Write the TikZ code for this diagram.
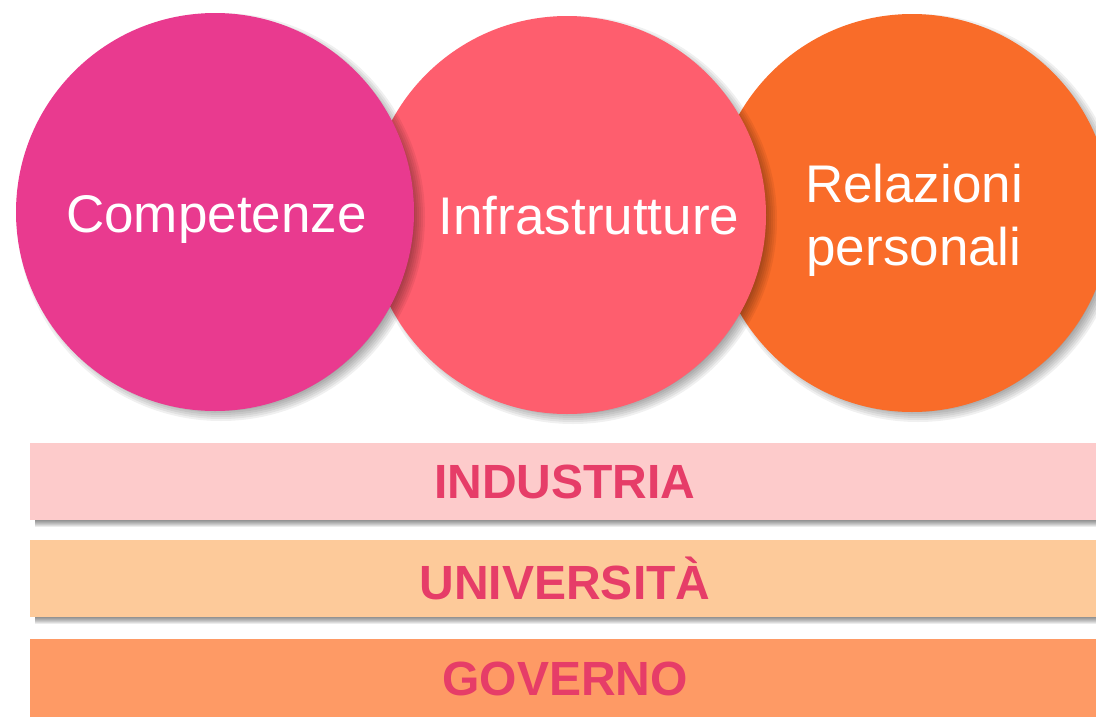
\documentclass[tikz,border=0pt]{standalone}
\usepackage{fontspec}
\setmainfont{Liberation Sans}
\definecolor{cA}{HTML}{E93A8F}
\definecolor{cB}{HTML}{FE5E6E}
\definecolor{cC}{HTML}{F96C29}
\definecolor{bA}{HTML}{FDCBCB}
\definecolor{bB}{HTML}{FDCA9A}
\definecolor{bC}{HTML}{FE9A65}
\definecolor{tx}{HTML}{E63D68}
\begin{document}
\begin{tikzpicture}[x=1pt,y=-1pt,
  disc/.style={circle,inner sep=0pt,minimum size=398pt,fill=#1},
  ctext/.style={text=white,font=\fontsize{53}{63}\selectfont,align=center,inner sep=0pt},
  barbox/.style={rectangle,inner sep=0pt,minimum height=77pt,minimum width=1070pt,fill=#1,text=tx,font=\fontsize{48}{58}\selectfont\bfseries},
  shade/.style={black,opacity=0.06},
  barshade/.style={black,opacity=0.075}
]
\clip (0,0) rectangle (1096,716);
\fill[white] (0,0) rectangle (1096,716);

% circle 3 (bottom layer)
\foreach \r in {190,192,...,204} \fill[shade] (918,218) circle[radius=\r pt];
\node[disc=cC] (c3) at (912,213) {};
% circle 2
\foreach \r in {190,192,...,204} \fill[shade] (573,220) circle[radius=\r pt];
\node[disc=cB] (c2) at (567,215) {};
% circle 1 (top layer)
\foreach \r in {190,192,...,204} \fill[shade] (221,217) circle[radius=\r pt];
\node[disc=cA] (c1) at (215,212) {};

\node[ctext,anchor=base] (t1) at (216.5,232) {Competenze};
\node[ctext,anchor=base] (t2) at (589,234) {Infrastrutture};
\node[ctext] (t3) at (914,220) {Relazioni\\personali};

% bar shadows
\foreach \d in {1,2,...,9} {
  \fill[barshade] (35,450) rectangle (1100,518+\d);
  \fill[barshade] (35,547) rectangle (1100,615+\d);
}
\node[barbox=bA] (b1) at (565,481.5) {INDUSTRIA};
\node[barbox=bB] (b2) at (565,578.5) {UNIVERSITÀ};
\node[barbox=bC,minimum height=80pt] (b3) at (565,678.5) {GOVERNO};
\end{tikzpicture}
\end{document}
